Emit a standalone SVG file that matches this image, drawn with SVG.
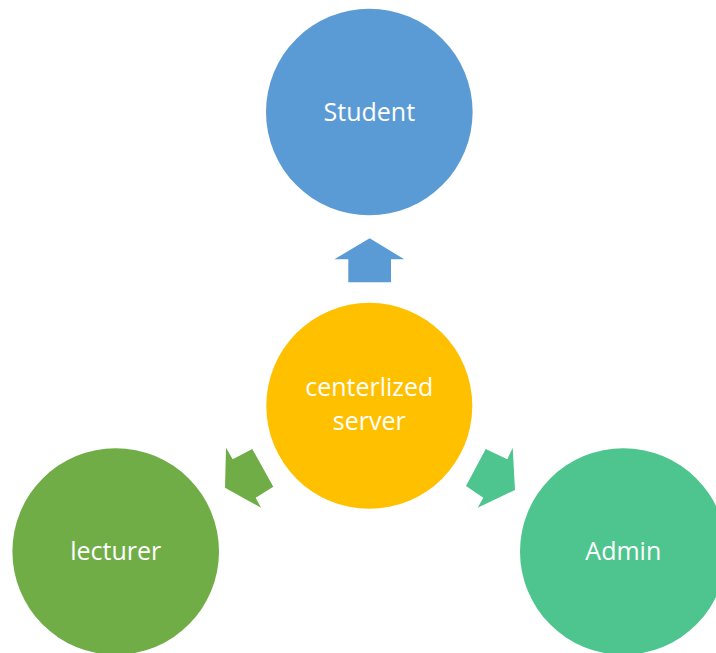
<svg xmlns="http://www.w3.org/2000/svg" width="716" height="653" viewBox="0 0 716 653">
<style>
.lbl{font-family:"Open Sans","Noto Sans",sans-serif;font-size:25px;fill:#ffffff;text-anchor:middle}
</style>
<rect width="716" height="653" fill="#ffffff"/>
<g id="connectors">
<polygon fill="#5B9BD5" points="369.7,238.3 404.3,259.3 391,259.3 391,282.3 348.3,282.3 348.3,259.3 334.3,259.3"/>
<polygon fill="#70AD47" points="225,487.7 226,447.7 232.7,459.3 252.3,449 273.3,486.7 255.7,497.7 261,507.7"/>
<polygon fill="#4EC58E" points="515,490 512.7,447.7 507.3,459.3 485.7,449 466,486 483.3,497.7 477.7,507.7"/>
</g>
<g id="student">
<circle cx="369.3" cy="112" r="103.3" fill="#5B9BD5"/>
<text class="lbl" x="369.3" y="120.7">Student</text>
</g>
<g id="server">
<circle cx="369.3" cy="405.8" r="103" fill="#FFC000"/>
<text class="lbl" x="369.3" y="396">centerlized</text>
<text class="lbl" x="369.3" y="430">server</text>
</g>
<g id="lecturer">
<circle cx="115.7" cy="551.5" r="103.3" fill="#70AD47"/>
<text class="lbl" x="115.7" y="560">lecturer</text>
</g>
<g id="admin">
<circle cx="623.3" cy="551.5" r="103.3" fill="#4EC58E"/>
<text class="lbl" x="623.3" y="560">Admin</text>
</g>
</svg>
